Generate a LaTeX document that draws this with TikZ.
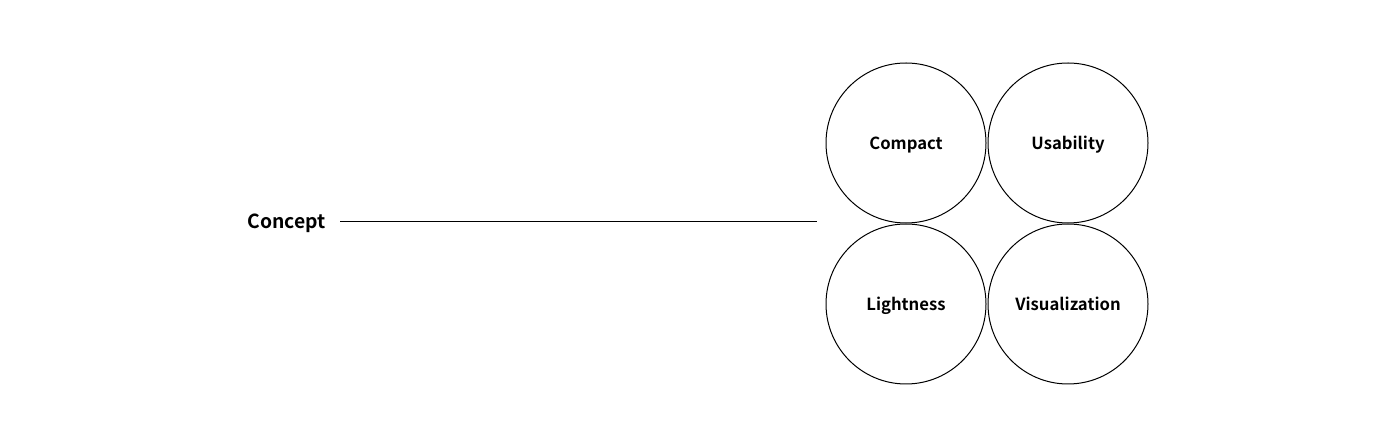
\documentclass[tikz,border=0pt]{standalone}
\usepackage{fontspec}
\setmainfont{Noto Sans CJK KR}[BoldFont={* Bold}]
\usepackage{tikz}

\begin{document}
\begin{tikzpicture}[x=0.75pt,y=-0.75pt,
	bubble/.style={draw,circle,line width=0.75pt,minimum size=120pt,inner sep=0pt,text height=1em,text depth=0pt,font=\bfseries\fontsize{12.5}{14}\selectfont}]
	
	\useasboundingbox (0,0) rectangle (1400,448);
	
	\node[font=\bfseries\fontsize{14.5}{16}\selectfont,anchor=east,inner sep=0pt,text height=1em,text depth=0pt] (concept) at (326,222) {Concept};
	\coordinate (e) at (817,222);
	\draw[line width=0.75pt,shorten <=10.5pt] (concept.east |- e) -- (e);
	
	\node[bubble] (c) at (906,143) {Compact};
	\node[bubble] (u) at (1068,143) {Usability};
	\node[bubble] (l) at (906,304) {Lightness};
	\node[bubble] (v) at (1068,304) {Visualization};
	
\end{tikzpicture}
\end{document}
